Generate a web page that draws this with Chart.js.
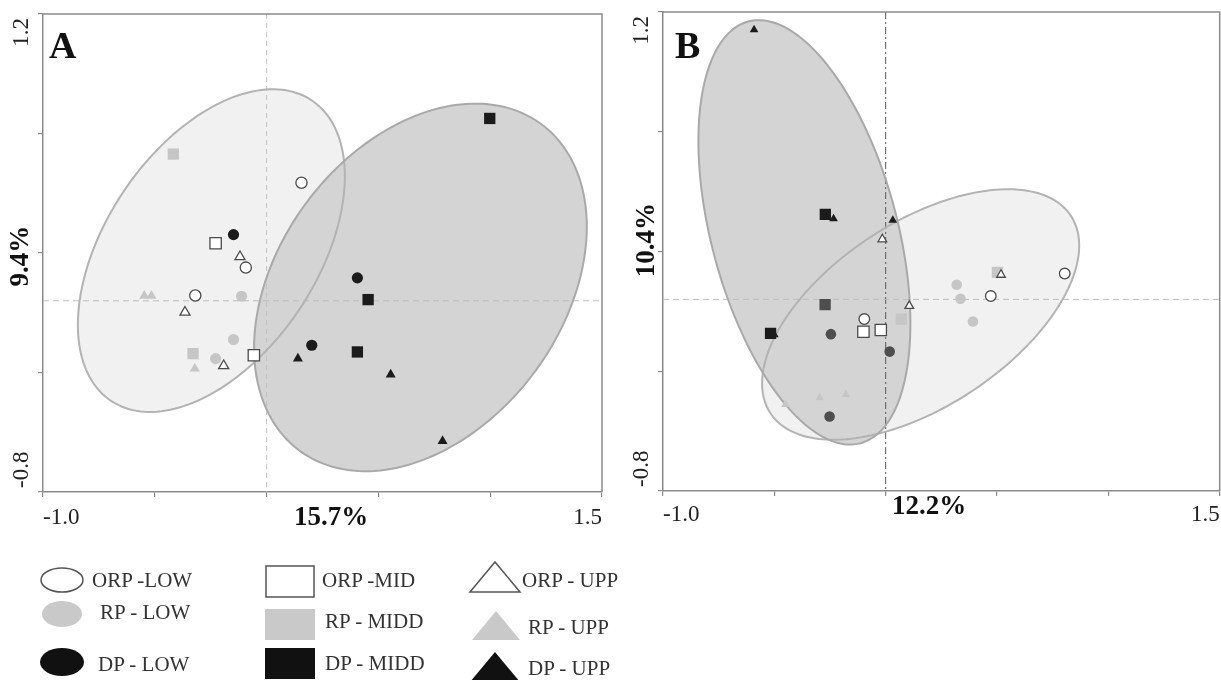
<!DOCTYPE html>
<html>
<head>
<meta charset="utf-8">
<script src="https://cdn.jsdelivr.net/npm/chart.js@4.4.1/dist/chart.umd.min.js"></script>
<style>
  html, body { margin: 0; padding: 0; background: #ffffff; }
  #wrap { position: relative; width: 1221px; height: 680px; overflow: hidden; background: #fff; }
  #cA { position: absolute; left: 0; top: 0; }
  #cB { position: absolute; left: 620px; top: 0; }
  #legend { position: absolute; left: 0; top: 540px; }
</style>
</head>
<body>
<div id="wrap">
  <canvas id="cA" width="620" height="545"></canvas>
  <canvas id="cB" width="609" height="545"></canvas>
  <svg id="legend" width="700" height="140" xmlns="http://www.w3.org/2000/svg"
       font-family="'Liberation Serif', 'DejaVu Serif', serif" font-size="21" fill="#333">
    <ellipse cx="62" cy="40" rx="21" ry="12" fill="#fff" stroke="#555" stroke-width="1.5"/>
    <text x="92" y="47">ORP -LOW</text>
    <ellipse cx="62" cy="74" rx="20" ry="13" fill="#c9c9c9"/>
    <text x="100" y="79">RP - LOW</text>
    <ellipse cx="62" cy="122" rx="22" ry="14" fill="#111"/>
    <text x="98" y="131">DP - LOW</text>

    <rect x="266" y="26" width="48" height="31" fill="#fff" stroke="#555" stroke-width="1.5"/>
    <text x="322" y="47">ORP -MID</text>
    <rect x="265" y="69" width="50" height="31" fill="#c9c9c9"/>
    <text x="325" y="88">RP - MIDD</text>
    <rect x="265" y="108" width="50" height="31" fill="#111"/>
    <text x="325" y="130">DP - MIDD</text>

    <polygon points="470,52 520,52 495,22" fill="#fff" stroke="#555" stroke-width="1.5"/>
    <text x="522" y="47">ORP - UPP</text>
    <polygon points="472,100 520,100 496,71" fill="#c9c9c9"/>
    <text x="528" y="94">RP - UPP</text>
    <polygon points="470,142 520,142 495,112" fill="#111"/>
    <text x="528" y="135">DP - UPP</text>
  </svg>
</div>
<script>
// ---------------- DATA ----------------
const groupNames = ['ORP -LOW', 'RP - LOW', 'DP - LOW', 'ORP -MID', 'RP - MIDD', 'DP - MIDD', 'ORP - UPP', 'RP - UPP', 'DP - UPP'];

const xRange = [-1.0, 1.5];
const yRange = [-0.8, 1.2];
const xTickLabels = ['-1.0', '1.5'];
const yTickLabels = ['1.2', '-0.8'];

// Panel A points [x, y]
const A_ORP_LOW = [[0.156, 0.494], [-0.093, 0.139], [-0.319, 0.022]];
const A_RP_LOW  = [[-0.112, 0.019], [-0.148, -0.162], [-0.228, -0.242]];
const A_DP_LOW  = [[-0.148, 0.277], [0.406, 0.096], [0.202, -0.186]];
const A_ORP_MID = [[-0.228, 0.241], [-0.057, -0.228]];
const A_RP_MIDD = [[-0.417, 0.614], [-0.329, -0.221]];
const A_DP_MIDD = [[0.998, 0.763], [0.454, 0.005], [0.406, -0.214]];
const A_ORP_UPP = [[-0.119, 0.184], [-0.365, -0.048], [-0.192, -0.272]];
const A_RP_UPP  = [[-0.547, 0.021], [-0.515, 0.021], [-0.321, -0.284]];
const A_DP_UPP  = [[0.140, -0.242], [0.555, -0.309], [0.787, -0.587]];

// Panel B points [x, y]
const B_ORP_LOW = [[-0.096, -0.082], [0.472, 0.014], [0.804, 0.108]];
const B_RP_LOW  = [[0.319, 0.061], [0.336, 0.003], [0.392, -0.092]];
const B_DP_LOW  = [[-0.246, -0.145], [0.018, -0.218], [-0.252, -0.489]];
const B_ORP_MID = [[-0.100, -0.135], [-0.022, -0.128]];
const B_RP_MIDD = [[0.070, -0.082], [0.502, 0.113]];
const B_DP_MIDD = [[-0.271, 0.355], [-0.272, -0.022], [-0.517, -0.142]];
const B_ORP_UPP = [[-0.015, 0.251], [0.106, -0.027], [0.518, 0.103]];
const B_RP_UPP  = [[-0.450, -0.439], [-0.296, -0.411], [-0.179, -0.397]];
const B_DP_UPP  = [[-0.591, 1.126], [-0.234, 0.337], [0.032, 0.330], [-0.500, -0.148]];

// Ellipses: [centerX, centerY, halfWidth, halfHeight, correlation]
const A_ellipseLight = [-0.247, 0.21, 0.597, 0.675, 0.46];
const A_ellipseDark  = [0.688, 0.056, 0.744, 0.769, 0.33];
const B_ellipseLight = [0.157, -0.063, 0.712, 0.523, 0.55];
const B_ellipseDark  = [-0.365, 0.28, 0.476, 0.886, -0.43];

// Axis titles (explained variance)
const A_axisTitles = ['15.7%', '9.4%'];
const B_axisTitles = ['12.2%', '10.4%'];
const panelLetters = ['A', 'B'];

// ---------------- STYLES ----------------
const SERIF = "'Liberation Serif', 'DejaVu Serif', serif";
const OPEN_FILL = '#ffffff', OPEN_LINE = '#4a4a4a', GREY = '#c6c6c6', BLACK = '#1b1b1b';

function styleFor(i, panel) {
  const shape = i < 3 ? 'circle' : (i < 6 ? 'rect' : 'triangle');
  const kind = i % 3; // 0 open, 1 grey, 2 black
  let radius = shape === 'circle' ? 5.6 : (shape === 'rect' ? 8 : 5.8);
  if (panel === 'B' && shape === 'triangle') radius = 5.0;
  if (panel === 'B' && shape === 'circle') radius = 5.3;
  let fill, line, bw;
  if (kind === 0) { fill = OPEN_FILL; line = OPEN_LINE; bw = 1.3; }
  else if (kind === 1) { fill = GREY; line = GREY; bw = 0; }
  else { fill = BLACK; line = BLACK; bw = 0; }
  if (panel === 'B' && i === 2) { fill = '#4e4e4e'; line = fill; }
  return { pointStyle: shape, pointRadius: radius, backgroundColor: fill, borderColor: line, borderWidth: bw };
}

function makeDatasets(series, panel) {
  return series.map((pts, i) => {
    const st = styleFor(i, panel);
    const ds = {
      label: groupNames[i],
      data: pts.map(p => ({ x: p[0], y: p[1] })),
      pointStyle: st.pointStyle,
      pointRadius: st.pointRadius,
      pointHoverRadius: st.pointRadius,
      pointBackgroundColor: st.backgroundColor,
      pointBorderColor: st.borderColor,
      pointBorderWidth: st.borderWidth,
      showLine: false,
      order: series.length - i
    };
    if (panel === 'B' && i === 5) {
      ds.pointBackgroundColor = (c) => c.dataIndex === 1 ? '#4e4e4e' : BLACK;
    }
    return ds;
  });
}

function ellipsePath(ctx, sx, sy, e) {
  const [cx, cy, w, h, r] = e;
  const s = Math.sqrt(1 - r * r);
  ctx.beginPath();
  const N = 180;
  for (let k = 0; k <= N; k++) {
    const t = (k / N) * Math.PI * 2;
    const xv = cx + w * Math.cos(t);
    const yv = cy + h * (r * Math.cos(t) + s * Math.sin(t));
    const px = sx.getPixelForValue(xv), py = sy.getPixelForValue(yv);
    if (k === 0) ctx.moveTo(px, py); else ctx.lineTo(px, py);
  }
  ctx.closePath();
}

const panelPlugin = {
  id: 'panelDeco',
  beforeDatasetsDraw(chart, args, o) {
    const { ctx, chartArea: ca } = chart;
    const sx = chart.scales.x, sy = chart.scales.y;
    ctx.save();
    ctx.beginPath();
    ctx.rect(ca.left, ca.top, ca.right - ca.left, ca.bottom - ca.top);
    ctx.clip();
    o.ellipses.forEach((e, k) => {
      ellipsePath(ctx, sx, sy, e);
      ctx.fillStyle = o.fills[k];
      ctx.fill();
    });
    // zero lines
    const x0 = sx.getPixelForValue(0), y0 = sy.getPixelForValue(0);
    ctx.lineWidth = 1;
    ctx.strokeStyle = o.vLineColor;
    ctx.setLineDash(o.vDash);
    ctx.beginPath(); ctx.moveTo(x0, ca.top); ctx.lineTo(x0, ca.bottom); ctx.stroke();
    ctx.strokeStyle = '#bdbdbd';
    ctx.setLineDash([6, 4]);
    ctx.beginPath(); ctx.moveTo(ca.left, y0); ctx.lineTo(ca.right, y0); ctx.stroke();
    ctx.setLineDash([]);
    o.ellipses.forEach((e, k) => {
      ellipsePath(ctx, sx, sy, e);
      ctx.strokeStyle = o.strokes[k];
      ctx.lineWidth = 2;
      ctx.stroke();
    });
    ctx.restore();
  },
  afterDraw(chart, args, o) {
    const { ctx, chartArea: ca } = chart;
    ctx.save();
    // frame (top and right)
    ctx.strokeStyle = '#8a8a8a';
    ctx.lineWidth = 1.5;
    ctx.beginPath();
    ctx.moveTo(ca.left, ca.top); ctx.lineTo(ca.right, ca.top); ctx.lineTo(ca.right, ca.bottom);
    ctx.stroke();
    ctx.fillStyle = '#222';
    // x tick labels at ends
    ctx.font = '23px ' + SERIF;
    ctx.textBaseline = 'middle';
    ctx.textAlign = 'left';
    ctx.fillText(xTickLabels[0], ca.left, o.xLabelY);
    ctx.textAlign = 'right';
    ctx.fillText(xTickLabels[1], ca.right, o.xLabelY);
    // y tick labels rotated
    ctx.save();
    ctx.translate(o.yLabelX, ca.top + 4);
    ctx.rotate(-Math.PI / 2);
    ctx.textAlign = 'right';
    ctx.fillText(yTickLabels[0], 0, 0);
    ctx.restore();
    ctx.save();
    ctx.translate(o.yLabelX, ca.bottom - 4);
    ctx.rotate(-Math.PI / 2);
    ctx.textAlign = 'left';
    ctx.fillText(yTickLabels[1], 0, 0);
    ctx.restore();
    // axis titles
    ctx.fillStyle = '#111';
    ctx.font = 'bold 27px ' + SERIF;
    ctx.textAlign = 'center';
    ctx.fillText(o.titles[0], o.xTitlePos[0], o.xTitlePos[1]);
    ctx.save();
    ctx.translate(o.yTitlePos[0], o.yTitlePos[1]);
    ctx.rotate(-Math.PI / 2);
    ctx.fillText(o.titles[1], 0, 0);
    ctx.restore();
    // panel letter
    ctx.font = 'bold 38px ' + SERIF;
    ctx.textAlign = 'left';
    ctx.textBaseline = 'alphabetic';
    ctx.fillText(o.letter, o.letterPos[0], o.letterPos[1]);
    ctx.restore();
  }
};

function makeChart(canvasId, series, panel, deco, pad, xH, yW) {
  return new Chart(document.getElementById(canvasId), {
    type: 'scatter',
    data: { datasets: makeDatasets(series, panel) },
    options: {
      responsive: false,
      animation: false,
      events: [],
      layout: { padding: pad },
      plugins: { legend: { display: false }, tooltip: { enabled: false }, panelDeco: deco },
      scales: {
        x: {
          type: 'linear', min: xRange[0], max: xRange[1],
          ticks: { display: false, stepSize: 0.5 },
          grid: { drawOnChartArea: false, drawTicks: true, tickLength: 5, color: '#8a8a8a', lineWidth: 1.2 },
          border: { display: true, color: '#8a8a8a', width: 1.5 },
          afterFit: (s) => { s.height = xH; }
        },
        y: {
          type: 'linear', min: yRange[0], max: yRange[1],
          ticks: { display: false, stepSize: 0.5 },
          grid: { drawOnChartArea: false, drawTicks: true, tickLength: 5, color: '#8a8a8a', lineWidth: 1.2 },
          border: { display: true, color: '#8a8a8a', width: 1.5 },
          afterFit: (s) => { s.width = yW; }
        }
      }
    },
    plugins: [panelPlugin]
  });
}

const seriesA = [A_ORP_LOW, A_RP_LOW, A_DP_LOW, A_ORP_MID, A_RP_MIDD, A_DP_MIDD, A_ORP_UPP, A_RP_UPP, A_DP_UPP];
const seriesB = [B_ORP_LOW, B_RP_LOW, B_DP_LOW, B_ORP_MID, B_RP_MIDD, B_DP_MIDD, B_ORP_UPP, B_RP_UPP, B_DP_UPP];

makeChart('cA', seriesA, 'A', {
  ellipses: [A_ellipseLight, A_ellipseDark],
  fills: ['#f1f1f1', '#d4d4d4'],
  strokes: ['#b3b3b3', '#a9a9a9'],
  vLineColor: '#c2c2c2', vDash: [5, 4],
  titles: A_axisTitles,
  xTitlePos: [331, 518], yTitlePos: [21, 256],
  xLabelY: 518, yLabelX: 22,
  letter: panelLetters[0], letterPos: [49, 58]
}, { top: 14, right: 18, left: 0, bottom: 0 }, 545 - 492, 43);

makeChart('cB', seriesB, 'B', {
  ellipses: [B_ellipseLight, B_ellipseDark],
  fills: ['#f1f1f1', '#d4d4d4'],
  strokes: ['#b3b3b3', '#a9a9a9'],
  vLineColor: '#5a5a5a', vDash: [7, 3, 2, 3],
  titles: B_axisTitles,
  xTitlePos: [309, 507], yTitlePos: [27, 240],
  xLabelY: 515, yLabelX: 22,
  letter: panelLetters[1], letterPos: [55, 58]
}, { top: 12, right: 1, left: 0, bottom: 0 }, 545 - 491, 43);
</script>
</body>
</html>
